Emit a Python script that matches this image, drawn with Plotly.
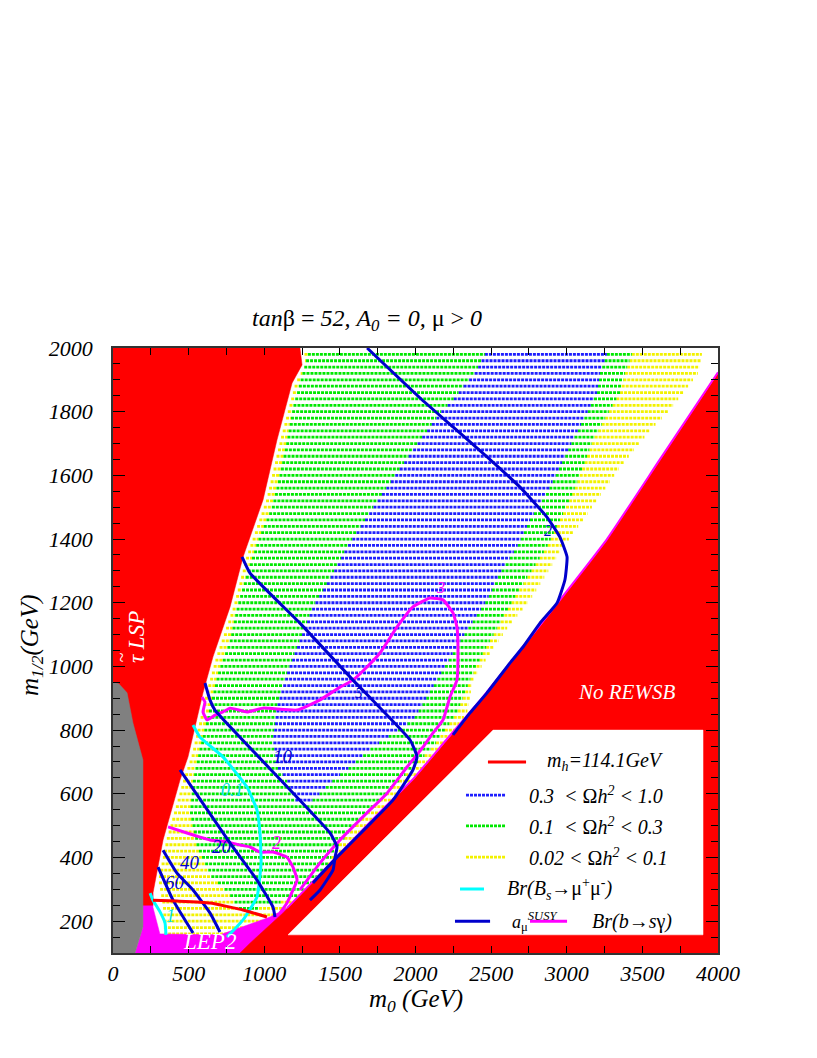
import plotly.graph_objects as go

FONT = "Liberation Serif"

# ---------------- data (m0, m1/2 in GeV) ----------------
# excluded / special regions
stau_m0 = [0, 1236, 1250, 1184, 1084, 992, 860, 774, 661, 595, 496, 443, 331, 264, 264, 0]
stau_m12 = [2000, 2000, 1947, 1890, 1711, 1523, 1344, 1187, 1030, 917, 716, 643, 455, 288, 250, 250]

grey_m0 = [0, 0, 40, 93, 132, 170, 198, 198, 145]
grey_m12 = [100, 951, 945, 917, 822, 750, 706, 182, 100]

lep_m0 = [198, 264, 264, 291, 310, 707, 860, 1038, 1150, 1236, 1322, 1322, 145, 198]
lep_m12 = [298, 288, 244, 194, 160, 157, 182, 213, 241, 266, 323, 100, 100, 182]

rewsb_m0 = [840, 906, 1124, 1322, 1547, 1765, 1983, 2208, 2446, 2856, 3266, 3617, 4000, 4000]
rewsb_m12 = [100, 131, 226, 323, 433, 540, 643, 769, 901, 1146, 1397, 1648, 1921, 100]

box_m0 = [1157, 3901, 3901, 2513]
box_m12 = [157, 157, 800, 800]

# relic density bands (outlines)
yel_m0 = [1262, 1272, 1206, 1106, 1014, 882, 796, 683, 617, 518, 465, 353, 300, 330, 340,
          1322, 1322, 1415, 1613, 1812, 1983, 2182, 2341, 2380, 2493, 2612, 2757, 2869, 2975,
          3107, 3233, 3352, 3498, 3570, 3663, 3769, 3868, 3894, 3900]
yel_m12 = [2000, 1947, 1890, 1711, 1523, 1344, 1187, 1030, 917, 716, 643, 455, 330, 250, 140,
           140, 276, 329, 433, 540, 643, 747, 854, 957, 1042, 1124, 1209, 1293, 1375,
           1460, 1545, 1626, 1711, 1752, 1796, 1859, 1921, 1981, 2000]

grn_m0 = [1289, 1289, 1190, 1150, 1104, 1051, 959, 886, 820, 774, 694, 641, 588, 575, 529,
          509, 555, 650, 760, 840, 900, 1018, 1322, 1388, 1481, 1679, 1898, 2116, 2274,
          2360, 2446, 2545, 2645, 2757, 2869, 2955, 3041, 3107, 3174, 3273, 3352, 3385,
          3431, 3435]
grn_m12 = [2000, 1981, 1815, 1711, 1607, 1501, 1397, 1293, 1187, 1083, 979, 873, 769, 747, 643,
           540, 433, 340, 290, 235, 235, 244, 298, 351, 433, 540, 643, 747, 854,
           957, 1042, 1124, 1209, 1293, 1375, 1460, 1545, 1626, 1711, 1796, 1859, 1921,
           1981, 2000]

blu_m0 = [2460, 2460, 2393, 2314, 2248, 2162, 2096, 2030, 1785, 1547, 1455, 1322, 1236, 1150,
          1084, 1058, 1084, 1150, 1190, 1217,
          1283, 1369, 1455, 1567, 1719, 1983, 2076, 2208, 2341, 2473, 2559, 2671, 2757,
          2869, 2955, 3041, 3134, 3200, 3220, 3266, 3270]
blu_m12 = [2000, 1981, 1921, 1878, 1837, 1796, 1752, 1711, 1545, 1375, 1293, 1187, 1083, 979,
           873, 769, 684, 643, 602, 565,
           565, 602, 643, 684, 747, 832, 904, 1011, 1114, 1209, 1293, 1375, 1460,
           1545, 1626, 1711, 1796, 1859, 1921, 1981, 2000]

# a_mu^SUSY contours
amu2_m0 = [1680, 2030, 2248, 2473, 2691, 2869, 2955, 3002, 2988, 2936, 2823, 2711, 2625, 2473, 2360, 2248]
amu2_m12 = [2000, 1843, 1752, 1658, 1563, 1469, 1406, 1344, 1272, 1199, 1136, 1061, 1011, 917, 854, 785]
amu5_m0 = [853, 906, 1236, 1587, 1964, 2010, 1983, 1851, 1679, 1481, 1322]
amu5_m12 = [1344, 1293, 1136, 957, 769, 716, 675, 580, 496, 401, 320]
amu10_m0 = [608, 641, 674, 1435, 1481, 1468, 1455, 1369, 1302]
amu10_m12 = [948, 895, 863, 477, 433, 401, 361, 298, 266]
amu20_m0 = [443, 774, 952, 1058, 1071]
amu20_m12 = [675, 445, 329, 244, 213]
amu40_m0 = [331, 423, 529, 641, 707]
amu40_m12 = [423, 351, 298, 226, 166]
amu60_m0 = [298, 397, 529]
amu60_m12 = [370, 266, 163]

# Br(Bs -> mu mu) contours
bs01_m0 = [529, 575, 727, 886, 952, 972, 979, 952, 860, 754]
bs01_m12 = [816, 778, 716, 621, 549, 477, 383, 276, 204, 150]
bs1_m0 = [245, 264, 311, 344, 350]
bs1_m12 = [288, 266, 229, 194, 157]

# Br(b -> s gamma) contours
bsg2_m0 = [364, 489, 575, 641, 754, 840, 906, 972, 1058, 1150, 1190, 1217, 1190, 1150, 1104]
bsg2_m12 = [496, 477, 464, 455, 449, 439, 433, 417, 417, 401, 370, 329, 298, 257, 226]
bsg3_m0 = [588, 608, 595, 622, 674, 727, 774, 886, 992, 1217, 1369, 1501, 1587, 1679, 1765,
           1878, 1983, 2096, 2182, 2248, 2274, 2281, 2274, 2228, 2182, 2116, 2050, 1944,
           1812, 1679, 1501, 1369, 1236]
bsg3_m12 = [904, 888, 857, 832, 847, 857, 869, 857, 869, 863, 895, 935, 957, 998, 1042,
            1124, 1187, 1215, 1209, 1168, 1124, 1042, 957, 904, 832, 791, 747, 684,
            602, 540, 455, 383, 298]
bsg_edge_m0 = [1150, 1322, 1547, 1765, 1983, 2208, 2446, 2856, 3266, 3617, 4000]
bsg_edge_m12 = [241, 325, 436, 543, 646, 772, 904, 1149, 1400, 1651, 1924]

# m_h = 114.1 GeV
mh_m0 = [264, 423, 641, 860, 1018]
mh_m12 = [266, 263, 257, 235, 213]

ROW_STEP = 20

# ---------------- colours ----------------
RED = "#ff0000"
MAG = "#ff00ff"
CYAN = "#00ffff"
DBLUE = "#0000cc"
DOT_BLUE = "#1f1fff"
DOT_GREEN = "#00e800"
DOT_YEL = "#f2f200"
DOT_DASH = "3px,1px"


def scan(px, py, y):
    xs = []
    n = len(px)
    for i in range(n):
        x1, y1 = px[i], py[i]
        x2, y2 = px[(i + 1) % n], py[(i + 1) % n]
        if (y1 <= y < y2) or (y2 <= y < y1):
            xs.append(x1 + (y - y1) * (x2 - x1) / (y2 - y1))
    xs.sort()
    return [(xs[k], xs[k + 1]) for k in range(0, len(xs) - 1, 2)]


def subtract(ints, holes):
    out = []
    for a, b in ints:
        segs = [(a, b)]
        for c, d in holes:
            new = []
            for s, e in segs:
                if d <= s or c >= e:
                    new.append((s, e))
                else:
                    if c > s:
                        new.append((s, c))
                    if d < e:
                        new.append((d, e))
            segs = new
        out += segs
    return out


rows = {"y": ([], []), "g": ([], []), "b": ([], [])}
level = 100
while level < 2000:
    Y = scan(yel_m0, yel_m12, level)
    G = scan(grn_m0, grn_m12, level)
    B = scan(blu_m0, blu_m12, level)
    for key, segs in (("b", B), ("g", subtract(G, B)), ("y", subtract(Y, G))):
        for s, e in segs:
            if e - s > 1:
                rows[key][0].extend([s, e, None])
                rows[key][1].extend([level, level, None])
    level += ROW_STEP

fig = go.Figure()

for key, col in (("y", DOT_YEL), ("g", DOT_GREEN), ("b", DOT_BLUE)):
    fig.add_trace(go.Scatter(x=rows[key][0], y=rows[key][1], mode="lines",
                             line=dict(color=col, width=2.8, dash=DOT_DASH),
                             hoverinfo="skip", showlegend=False))


def region(xs, ys, color):
    fig.add_trace(go.Scatter(x=xs + [xs[0]], y=ys + [ys[0]], fill="toself", fillcolor=color,
                             mode="lines", line=dict(width=0.5, color=color),
                             hoverinfo="skip", showlegend=False))


region(lep_m0, lep_m12, MAG)
region(stau_m0, stau_m12, RED)
region(grey_m0, grey_m12, "#808080")
region(rewsb_m0, rewsb_m12, RED)
region(box_m0, box_m12, "#ffffff")


def curve(xs, ys, color, width=3, dash="solid"):
    fig.add_trace(go.Scatter(x=xs, y=ys, mode="lines",
                             line=dict(color=color, width=width, dash=dash, shape="spline", smoothing=0.4),
                             hoverinfo="skip", showlegend=False))


curve(bsg_edge_m0, bsg_edge_m12, MAG, 2)
curve(bsg2_m0, bsg2_m12, MAG)
curve(bsg3_m0, bsg3_m12, MAG)
curve(bs01_m0, bs01_m12, CYAN)
curve(bs1_m0, bs1_m12, CYAN)
for xs, ys in ((amu2_m0, amu2_m12), (amu5_m0, amu5_m12), (amu10_m0, amu10_m12),
               (amu20_m0, amu20_m12), (amu40_m0, amu40_m12), (amu60_m0, amu60_m12)):
    curve(xs, ys, DBLUE)
curve(mh_m0, mh_m12, RED)

# legend samples
leg_lines = [
    ([2479, 2731], [700, 700], RED, 3, "solid"),
    ([2334, 2598], [596, 596], DOT_BLUE, 2.8, DOT_DASH),
    ([2334, 2598], [499, 499], DOT_GREEN, 2.8, DOT_DASH),
    ([2334, 2598], [401, 401], DOT_YEL, 2.8, DOT_DASH),
    ([2294, 2453], [301, 301], CYAN, 3, "solid"),
    ([2261, 2493], [200, 200], DBLUE, 3, "solid"),
    ([2757, 3002], [200, 200], MAG, 3, "solid"),
]
for xs, ys, col, w, d in leg_lines:
    fig.add_trace(go.Scatter(x=xs, y=ys, mode="lines", line=dict(color=col, width=w, dash=d),
                             hoverinfo="skip", showlegend=False))

ann = []


def text(x, y, s, size, color="black", xanchor="center", textangle=0, xref="x", yref="y"):
    ann.append(dict(x=x, y=y, xref=xref, yref=yref, text=s, showarrow=False,
                    xanchor=xanchor, yanchor="middle", textangle=textangle,
                    font=dict(family=FONT, size=size, color=color)))


# legend text
text(2856, 700, "<i>m<sub>h</sub>=114.1GeV</i>", 20, xanchor="left")
text(2737, 596, "<i>0.3&nbsp;&nbsp;&lt; </i>Ω<i>h<sup>2</sup> &lt; 1.0</i>", 20, xanchor="left")
text(2737, 499, "<i>0.1&nbsp;&nbsp;&lt; </i>Ω<i>h<sup>2</sup> &lt; 0.3</i>", 20, xanchor="left")
text(2737, 401, "<i>0.02 &lt; </i>Ω<i>h<sup>2</sup> &lt; 0.1</i>", 20, xanchor="left")
text(2592, 301, "<i>Br(B<sub>s</sub></i>→μ<sup>+</sup>μ<sup>-</sup><i>)</i>", 20, xanchor="left")
text(2625, 200, "<i>a</i><sub>μ</sub><sup><i>SUSY</i></sup>", 18, xanchor="left")
text(3154, 200, "<i>Br(b</i>→<i>s</i>γ<i>)</i>", 20, xanchor="left")

# region labels
text(3398, 920, "<i>No REWSB</i>", 21, "white")
text(641, 135, "<i>LEP2</i>", 23, "white")
text(152, 1092, "<i>τ&nbsp;LSP</i>", 23, "white", textangle=-90)
text(58, 1028, "~", 18, "white", textangle=-90)

# contour labels
text(410, 320, "<i>60</i>", 19, DBLUE)
text(509, 383, "<i>40</i>", 19, DBLUE)
text(720, 433, "<i>20</i>", 19, DBLUE)
text(1124, 716, "<i>10</i>", 19, DBLUE)
text(1626, 917, "<i>5</i>", 15, DBLUE)
text(2876, 1428, "<i>2</i>", 16, DBLUE)
text(787, 612, "<i>0.1</i>", 18, "#00e0e0")
text(383, 216, "<i>1</i>", 18, "#00e0e0")
text(1084, 445, "<i>2</i>", 18, MAG)
text(2162, 1249, "<i>3</i>", 16, MAG)

# titles
text((367 - 113) / 605, 1 + 28 / 605, "<i>tan</i>β = <i>52, A<sub>0</sub> = 0,</i> μ &gt; <i>0</i>", 24,
     xref="paper", yref="paper")
text(0.5, -47 / 605, "<i>m<sub>0</sub> (GeV)</i>", 25, xref="paper", yref="paper")
text(-82 / 605, 1 - (645 - 348) / 605, "<i>m<sub>1/2</sub>(GeV)</i>", 25,
     xref="paper", yref="paper", textangle=-90)

axis_common = dict(showgrid=False, zeroline=False, showline=True, mirror="allticks",
                   linecolor="#333333", linewidth=1.5, ticks="inside", tickcolor="black",
                   tickwidth=1, automargin=False,
                   tickfont=dict(family=FONT, size=22, color="black", style="italic"))

# page body has an 8 px margin: the figure is offset by it
fig.update_layout(
    width=809, height=1050,
    margin=dict(l=105, r=99, t=340, b=105, autoexpand=False),
    paper_bgcolor="white", plot_bgcolor="white",
    showlegend=False,
    annotations=ann,
    xaxis=dict(range=[0, 4000], tick0=0, dtick=500, ticklen=7,
               minor=dict(dtick=250, ticks="inside", ticklen=7, tickcolor="black"),
               ticklabelstandoff=0, **axis_common),
    yaxis=dict(range=[100, 2000], tick0=0, dtick=200, ticklen=12,
               minor=dict(dtick=50, ticks="inside", ticklen=7, tickcolor="black"),
               ticklabelstandoff=14, **axis_common),
)

fig.write_html("out.html")
